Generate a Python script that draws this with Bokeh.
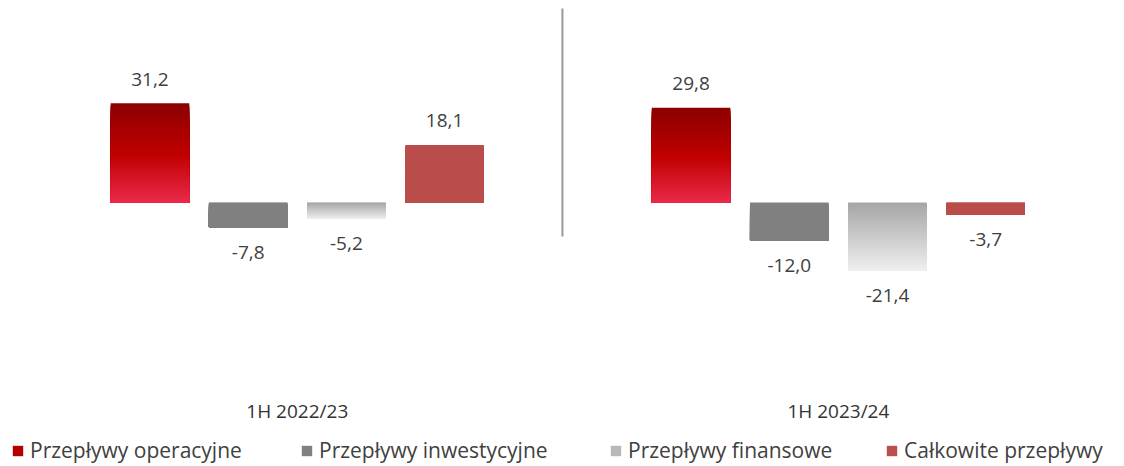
import numpy as np
from bokeh.plotting import figure
from bokeh.models import ColumnDataSource, Legend, LegendItem, Label, Range1d
from bokeh.core.properties import value
from bokeh.embed import file_html
from bokeh.resources import INLINE

# ---- data ----
groups = ["1H 2022/23", "1H 2023/24"]
series = ["Przepływy operacyjne", "Przepływy inwestycyjne", "Przepływy finansowe", "Całkowite przepływy"]
operacyjne = [31.2, 29.8]
inwestycyjne = [-7.8, -12.0]
finansowe = [-5.2, -21.4]
calkowite = [18.1, -3.7]

values_by_series = [operacyjne, inwestycyjne, finansowe, calkowite]

# ---- styles ----
colour_stops = [
    [(0.0, "#8C0000"), (0.52, "#C00000"), (1.0, "#EA2A4A")],
    [(0.0, "#808080"), (1.0, "#808080")],
    [(0.0, "#A5A5A5"), (1.0, "#EFEFEF")],
    [(0.0, "#BA4E4B"), (1.0, "#BA4E4B")],
]
legend_index = [25, 0, 15, 0]
legend_x = [11, 300, 609, 885]
FONT = "Open Sans"
TEXT_COL = "#404040"
GROUP_GAP = 1.51
BAR_W = 0.8
N_SLICES = 60
W, H = 1120, 464


def hex2rgb(h):
    h = h.lstrip("#")
    return np.array([int(h[i:i + 2], 16) for i in (0, 2, 4)], dtype=float)


def colour_at(stops, t):
    for (t0, c0), (t1, c1) in zip(stops[:-1], stops[1:]):
        if t0 <= t <= t1:
            f = 0 if t1 == t0 else (t - t0) / (t1 - t0)
            c = hex2rgb(c0) * (1 - f) + hex2rgb(c1) * f
            return "#%02x%02x%02x" % tuple(int(round(v)) for v in c)
    return stops[-1][1]


def xpos(g, s):
    return g * (len(series) + GROUP_GAP) + s


p = figure(width=W, height=H, output_backend="svg", toolbar_location=None,
           x_range=Range1d(-1.522, 9.883), y_range=Range1d(-82.4, 63.5),
           x_axis_location=None, y_axis_location=None, min_border=0)
p.grid.visible = False
p.outline_line_color = None
p.background_fill_color = "white"
p.border_fill_color = "white"

renderers = []
for s, vals in enumerate(values_by_series):
    left, right, top, bottom, col = [], [], [], [], []
    for g, v in enumerate(vals):
        hi, lo = max(v, 0.0), min(v, 0.0)
        edges = np.linspace(hi, lo, N_SLICES + 1)
        for k in range(N_SLICES):
            # each slice runs to the bar's far end; later slices paint over -> seamless gradient
            left.append(xpos(g, s) - BAR_W / 2)
            right.append(xpos(g, s) + BAR_W / 2)
            top.append(edges[k])
            bottom.append(lo)
            col.append(colour_at(colour_stops[s], (k + 0.5) / N_SLICES))
    src = ColumnDataSource(dict(left=left, right=right, top=top, bottom=bottom, color=col))
    r = p.quad(left="left", right="right", top="top", bottom="bottom", source=src,
               fill_color="color", line_color=None)
    renderers.append(r)

# value labels
lx, ly, lt, lo_ = [], [], [], []
for s, vals in enumerate(values_by_series):
    for g, v in enumerate(vals):
        lx.append(xpos(g, s))
        ly.append(v)
        lt.append(f"{v:.1f}".replace(".", ","))
        lo_.append(-24 if v > 0 else 25)
p.text(x="x", y="y", text="t", y_offset="o",
       source=ColumnDataSource(dict(x=lx, y=ly, t=lt, o=lo_)),
       text_align="center", text_baseline="middle", text_font=value(FONT),
       text_font_size="19px", text_color=TEXT_COL)

# divider between groups
xd = (xpos(0, len(series) - 1) + xpos(1, 0)) / 2 - 0.055
p.segment(x0=[xd], y0=[61.0], x1=[xd], y1=[-10.7], line_color="#999999", line_width=2)

# group labels
for g, name in enumerate(groups):
    cx = (xpos(g, 0) + xpos(g, len(series) - 1)) / 2
    p.add_layout(Label(x=cx, y=H - 410, y_units="screen", text=name, text_align="center",
                       text_baseline="middle", text_font=FONT, text_font_size="19px",
                       text_color="#333333"))

# legends
for s, name in enumerate(series):
    leg = Legend(items=[LegendItem(label=name, renderers=[renderers[s]], index=legend_index[s])],
                 location=(legend_x[s], 0), orientation="horizontal",
                 glyph_width=13, glyph_height=13, label_standoff=6, padding=0, margin=0,
                 border_line_alpha=0, background_fill_alpha=0,
                 label_text_font=FONT, label_text_font_size="21px", label_text_color=TEXT_COL)
    p.add_layout(leg)

open("out.html", "w").write(file_html(p, INLINE))
